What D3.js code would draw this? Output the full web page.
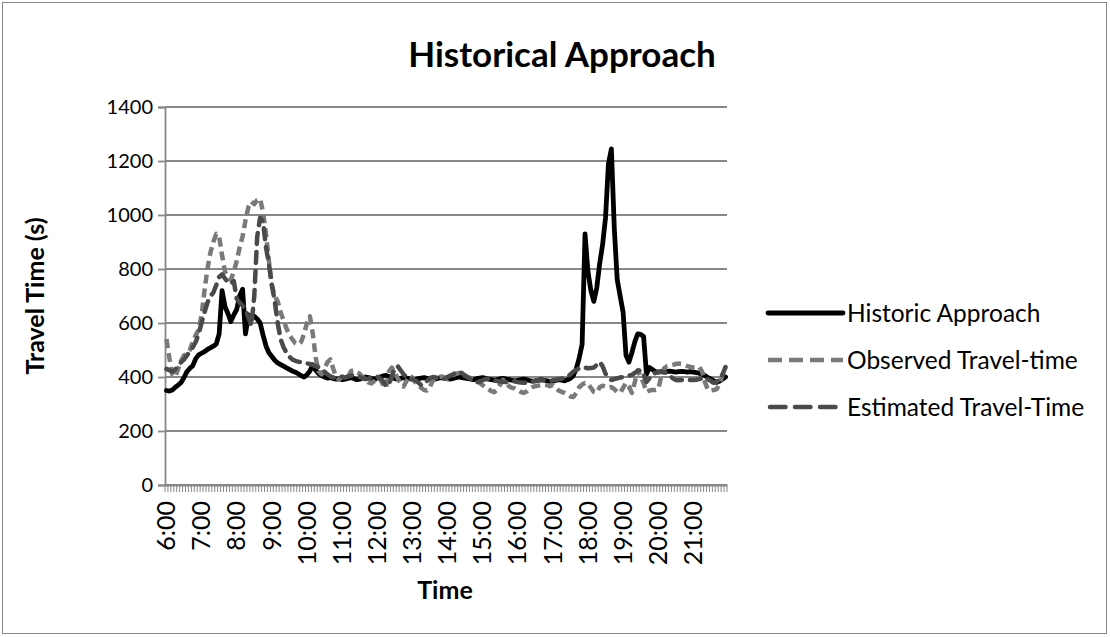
<!DOCTYPE html>
<meta charset="utf-8">
<style>
  body { margin: 0; background: #fff; }
  text { font-family: Lato, "Open Sans", sans-serif; fill: #000; }
</style>
<body>
<div id="chart"></div>
<script src="https://d3js.org/d3.v7.min.js"></script>
<script>
  // hour labels on the category axis, one category every 5 minutes
  const hourLabels = ['6:00', '7:00', '8:00', '9:00', '10:00', '11:00', '12:00', '13:00',
    '14:00', '15:00', '16:00', '17:00', '18:00', '19:00', '20:00', '21:00'];
  const minuteSteps = ['00', '05', '10', '15', '20', '25', '30', '35', '40', '45', '50', '55'];
  const yTicks = [0, 200, 400, 600, 800, 1000, 1200, 1400];
  const seriesNames = ['Historic Approach', 'Observed Travel-time', 'Estimated Travel-Time'];

  // travel time (s), one row per hour
  const historic = [
    350, 348, 352, 362, 370, 380, 398, 420, 432, 442, 468, 482,
    488, 494, 502, 508, 514, 522, 560, 720, 660, 635, 605, 630,
    650, 700, 725, 560, 630, 615, 625, 615, 600, 555, 515, 490,
    476, 462, 452, 446, 440, 434, 428, 422, 418, 412, 405, 400,
    408, 422, 445, 425, 412, 405, 400, 396, 398, 394, 392, 394,
    390, 392, 395, 398, 394, 390, 392, 396, 400, 398, 395, 392,
    396, 400, 404, 406, 402, 398, 394, 392, 395, 398, 396, 394,
    392, 390, 394, 396, 398, 395, 392, 390, 393, 396, 398, 396,
    394, 392, 395, 398, 400, 398, 396, 394, 392, 390, 394, 396,
    398, 395, 392, 390, 388, 390, 393, 395, 392, 390, 388, 386,
    388, 390, 392, 390, 387, 385, 386, 388, 390, 388, 386, 384,
    385, 387, 390, 388, 386, 390, 395, 405, 430, 470, 520, 930,
    790, 720, 680, 730, 820, 890, 990, 1190, 1245, 950, 760, 700,
    640, 480, 455, 490, 530, 560, 558, 550, 410, 435, 428, 420,
    418, 420, 418, 420, 422, 420, 418, 420, 421, 420, 418, 420,
    418, 416, 414, 410, 405, 398, 392, 386, 380, 385, 392, 400];

  const observed = [
    540, 470, 410, 400, 430, 460, 480, 485, 500, 530, 555, 575,
    630, 720, 800, 860, 900, 930, 920, 850, 790, 770, 760, 790,
    830, 880, 920, 980, 1030, 1050, 1040, 1055, 1060, 1010, 930, 830,
    740, 700, 680, 640, 610, 580, 555, 540, 525, 520, 530, 560,
    600, 625, 560, 470, 420, 410, 430, 455, 465, 430, 400, 390,
    400, 405, 398, 422, 425, 418, 412, 400, 390, 380, 376, 385,
    400, 392, 372, 360, 420, 435, 415, 395, 378, 365, 385, 405,
    398, 380, 370, 360, 352, 350, 362, 388, 395, 400, 402, 398,
    392, 400, 408, 412, 415, 410, 405, 400, 396, 392, 385, 378,
    370, 362, 355, 348, 344, 355, 372, 389, 380, 366, 360, 358,
    352, 345, 341, 346, 355, 362, 366, 368, 370, 372, 370, 366,
    370, 360, 350, 345, 341, 335, 328, 326, 340, 362, 372, 378,
    375, 360, 345, 342, 362, 368, 365, 360, 363, 355, 345, 341,
    360, 378, 365, 341, 380, 426, 400, 378, 345, 350, 352, 352,
    355, 400, 432, 440, 442, 445, 448, 450, 448, 445, 440, 437,
    436, 437, 437, 420, 380, 352, 350, 352, 355, 375, 410, 437];

  const estimated = [
    430, 425, 420, 428, 440, 455, 465, 480, 495, 510, 530, 560,
    600, 640, 675, 700, 712, 740, 770, 780, 765, 750, 745, 755,
    690, 675, 665, 650, 620, 590, 700, 920, 990, 975, 880, 820,
    740, 680, 600, 540, 510, 490, 475, 465, 460, 457, 455, 452,
    450, 448, 445, 440, 436, 430, 420, 410, 402, 398, 400, 402,
    400, 398, 402, 405, 408, 404, 400, 396, 392, 394, 398, 400,
    402, 395, 385, 365, 375, 400, 435, 440, 425, 410, 400, 395,
    392, 388, 380, 370, 372, 385, 396, 400, 398, 395, 392, 394,
    400, 405, 410, 418, 420, 414, 405, 398, 392, 386, 381, 383,
    388, 392, 395, 392, 388, 385, 383, 382, 381, 384, 386, 384,
    381, 380, 379, 378, 380, 383, 386, 388, 389, 388, 386, 385,
    388, 390, 392, 394, 396, 400, 410, 420, 426, 432, 437, 435,
    432, 433, 435, 445, 456, 440, 412, 400, 389, 392, 395, 398,
    400, 402, 405, 408, 415, 422, 426, 410, 382, 395, 410, 415,
    418, 420, 418, 415, 405, 395, 389, 388, 389, 390, 389, 389,
    389, 390, 392, 396, 400, 392, 385, 378, 382, 392, 410, 437];

  const categories = hourLabels.flatMap(h => minuteSteps.map(m => h.replace(':00', ':' + m)));

  const series = [
    { name: seriesNames[0], values: historic, color: '#000', width: 4.8, dash: null, legendDash: null, cap: 'round' },
    { name: seriesNames[1], values: observed, color: '#7a7a7a', width: 4.5, dash: '9,5', legendDash: '14,7', cap: 'butt' },
    { name: seriesNames[2], values: estimated, color: '#4a4a4a', width: 4.5, dash: '11,8', legendDash: '15.5,9.5', cap: 'round' }];

  const W = 1110, H = 637;
  const svg = d3.select('#chart').append('svg').
      attr('width', W).
      attr('height', H);

  // outer chart border
  svg.append('rect').
      attr('x', 2.5).attr('y', 2.5).
      attr('width', W - 6).attr('height', H - 6).
      attr('fill', '#fff').attr('stroke', '#888').attr('stroke-width', 1);

  const x = d3.scaleBand().domain(categories).range([165, 727]).padding(0);
  const y = d3.scaleLinear().domain([0, 1400]).range([485, 107]);
  const gridColor = '#888';

  // gridlines
  svg.append('g').selectAll('line').data(yTicks).enter().append('line').
      attr('x1', 165).attr('x2', 727).
      attr('y1', d => y(d)).attr('y2', d => y(d)).
      attr('stroke', gridColor).attr('stroke-width', 1.8);

  // y axis
  const yAxis = svg.append('g').
      attr('transform', 'translate(165,0)').
      call(d3.axisLeft(y).tickValues(yTicks).tickFormat(d3.format('d')).tickSize(7).tickPadding(5));
  yAxis.select('.domain').attr('stroke', gridColor).attr('stroke-width', 1.8);
  yAxis.selectAll('.tick line').attr('stroke', gridColor).attr('stroke-width', 1.8);
  yAxis.selectAll('text').attr('font-size', 20).attr('font-family', 'Lato, sans-serif');

  // x axis: a tick between every category, a label every hour
  const xAxis = svg.append('g').
      attr('transform', 'translate(0,485)').
      call(d3.axisBottom(x).tickValues(hourLabels).tickSize(0).tickPadding(0));
  xAxis.select('.domain').attr('stroke', gridColor).attr('stroke-width', 1.8);
  xAxis.selectAll('text').
      attr('font-size', 25).attr('font-family', 'Lato, sans-serif').
      attr('transform', 'rotate(-90)').
      attr('text-anchor', 'end').
      attr('x', -16).attr('y', 0).attr('dy', '0.35em');
  xAxis.append('g').selectAll('line').data(d3.range(categories.length + 1)).enter().append('line').
      attr('x1', i => x.range()[0] + i * x.step()).
      attr('x2', i => x.range()[0] + i * x.step()).
      attr('y1', 0).attr('y2', 7).
      attr('stroke', gridColor).attr('stroke-width', 1);

  // lines
  const line = d3.line().
      x((d, i) => x(categories[i]) + x.bandwidth() / 2).
      y(d => y(d));
  svg.append('g').selectAll('path').data(series).enter().append('path').
      attr('d', d => line(d.values)).
      attr('fill', 'none').
      attr('stroke', d => d.color).
      attr('stroke-width', d => d.width).
      attr('stroke-dasharray', d => d.dash).
      attr('stroke-linecap', d => d.cap).
      attr('stroke-linejoin', 'round');

  // titles
  svg.append('text').
      attr('x', 562).attr('y', 67).
      attr('text-anchor', 'middle').
      attr('font-size', 35).attr('font-weight', 'bold').
      text('Historical Approach');
  svg.append('text').
      attr('x', 445).attr('y', 599).
      attr('text-anchor', 'middle').
      attr('font-size', 25).attr('font-weight', 'bold').
      text('Time');
  svg.append('text').
      attr('transform', 'translate(44,296) rotate(-90)').
      attr('text-anchor', 'middle').
      attr('font-size', 25).attr('font-weight', 'bold').
      text('Travel Time (s)');

  // legend
  const legend = svg.append('g').selectAll('g').data(series).enter().append('g').
      attr('transform', (d, i) => `translate(768,${313 + i * 47})`);
  legend.append('line').
      attr('x1', d => d.cap === 'round' && d.dash ? 2 : 0).
      attr('x2', d => d.cap === 'round' && d.dash ? 73 : 75).
      attr('y1', 0).attr('y2', 0).
      attr('stroke', d => d.color).
      attr('stroke-width', d => d.width).
      attr('stroke-dasharray', d => d.legendDash).
      attr('stroke-linecap', d => d.cap);
  legend.append('text').
      attr('x', 79).attr('y', 0).attr('dy', '0.35em').
      attr('font-size', 24.5).
      text(d => d.name);
</script>
